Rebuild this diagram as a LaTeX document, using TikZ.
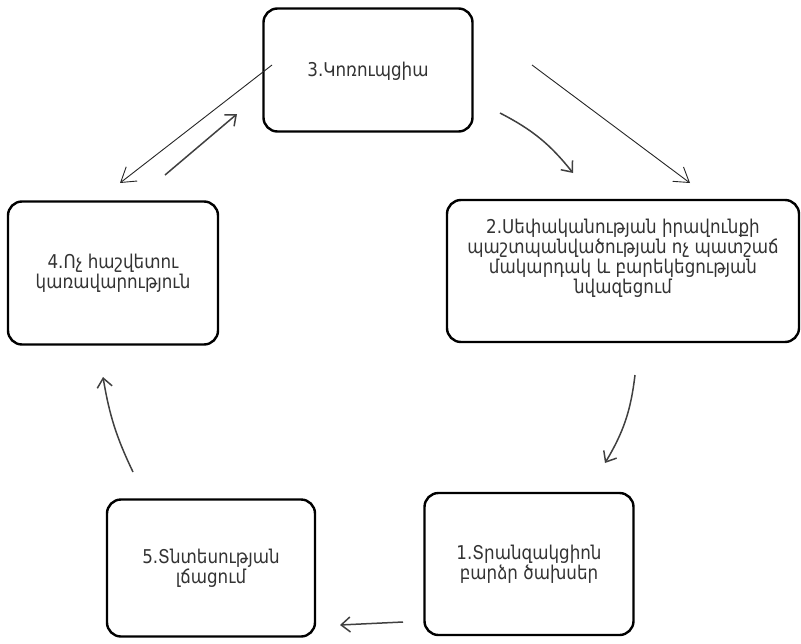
\documentclass[tikz,border=0pt]{standalone}
\usepackage{fontspec}
\newfontfamily\armfont[Script=Armenian,FakeStretch=0.88]{DejaVu Sans}
\usetikzlibrary{arrows.meta,positioning}
\tikzset{%
    >={Straight Barb[length=14pt,width=18pt]},
    base/.style = {
        rectangle, rounded corners=14pt, draw=black, line width=2.4pt,
        align=center, text=black!80, inner sep=0pt,
        font=\armfont\fontsize{19}{20}\selectfont
    },
    stage/.style = {base, minimum width=209pt, minimum height=140pt},
    wide/.style = {base, minimum width=352pt, minimum height=142pt},
    plain/.style = {->, line width=0.9pt, black!85},
    sketch/.style = {line width=1.5pt, black!75,
        -{Straight Barb[length=9pt,width=15pt]}},
}

\begin{document}
\begin{tikzpicture}[x=1pt,y=1pt]
        \useasboundingbox (0,0) rectangle (801,-643);

        % Nodes position
        \node (corruption) [stage, minimum height=123pt] at (368,-70)
                                {\\[-4pt]3.Կոռուպցիա};
        \node (property)   [wide] at (623,-271)
                                {2.Սեփականության իրավունքի\\
                                 պաշտպանվածության ոչ պատշաճ\\
                                 մակարդակ և բարեկեցության\\
                                 նվազեցում\\[10pt]};
        \node (costs)      [stage, minimum height=142pt] at (529,-564)
                                {1.Տրանզակցիոն\\բարձր ծախսեր};
        \node (stagnation) [stage, minimum width=208pt, minimum height=137pt] at (211,-568)
                                {5.Տնտեսության\\լճացում};
        \node (government) [stage, minimum width=210pt, minimum height=143pt] at (113,-273)
                                {4.Ոչ հաշվետու\\կառավարություն};

        % Free ends of the arrows
        \coordinate (leftStart)  at (272,-65);
        \coordinate (leftEnd)    at (120,-183);
        \coordinate (rightStart) at (532,-65);
        \coordinate (rightEnd)   at (690,-183);
        \coordinate (upStart)    at (165,-175);
        \coordinate (upEnd)      at (237,-114);
        \coordinate (downStart)  at (500,-113);
        \coordinate (downEnd)    at (573,-173);
        \coordinate (dropStart)  at (635,-375);
        \coordinate (dropEnd)    at (605,-463);
        \coordinate (backStart)  at (403,-622);
        \coordinate (backEnd)    at (340,-625);
        \coordinate (riseStart)  at (133,-472);
        \coordinate (riseEnd)    at (103,-377);

        % Arrow specification
        \draw[plain]   (leftStart) -- (leftEnd);
        \draw[plain]  (rightStart) -- (rightEnd);
        \draw[sketch]    (upStart) -- (upEnd);
        \draw[sketch]  (downStart) to[bend left=12] (downEnd);
        \draw[sketch]  (dropStart) to[bend left=12] (dropEnd);
        \draw[sketch]  (backStart) -- (backEnd);
        \draw[sketch]  (riseStart) to[bend left=8] (riseEnd);
    \end{tikzpicture}
\end{document}
